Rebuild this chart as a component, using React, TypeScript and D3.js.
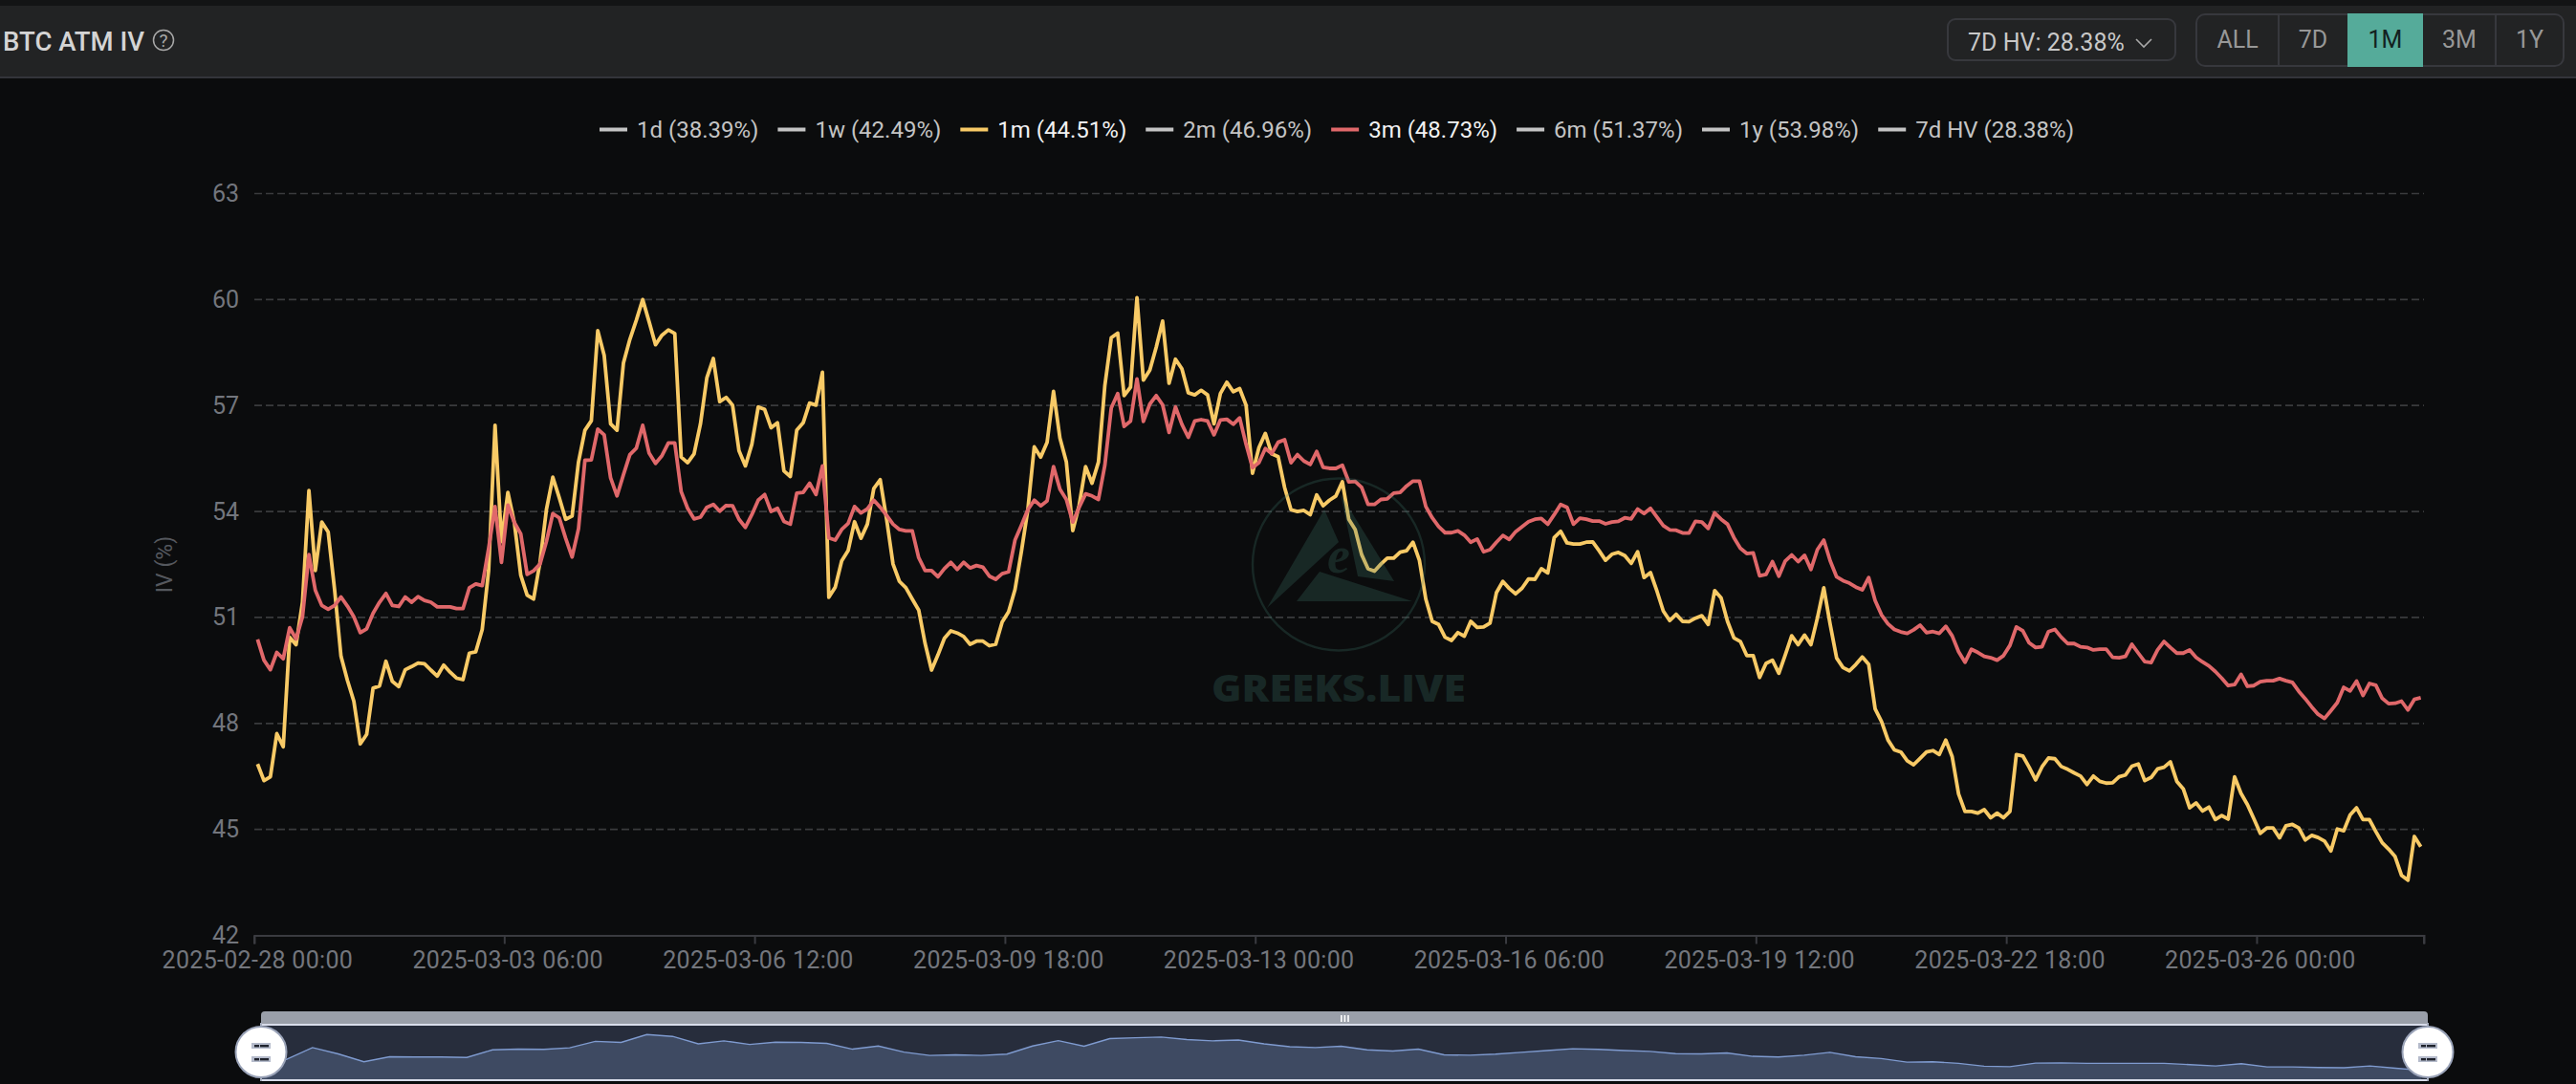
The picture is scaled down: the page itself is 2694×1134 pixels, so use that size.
import React, { useEffect, useRef } from "react";
import * as d3 from "d3";

// 2h samples
const startTime = new Date(Date.UTC(2025, 1, 28, 0, 0));
const sampleCount = 338;

const iv3m = [
  50.38, 49.79, 49.52, 50.01, 49.83, 50.71, 50.39, 51.02, 52.78, 51.77,
  51.34, 51.23, 51.34, 51.58, 51.32, 51.02, 50.57, 50.68, 51.12, 51.43,
  51.68, 51.34, 51.31, 51.58, 51.43, 51.59, 51.48, 51.43, 51.3, 51.3,
  51.3, 51.25, 51.25, 51.84, 51.95, 51.9, 52.96, 54.14, 52.56, 54.18,
  53.69, 53.37, 52.22, 52.32, 52.51, 53.15, 53.94, 53.82, 53.24, 52.71,
  53.51, 55.45, 55.46, 56.33, 56.17, 54.95, 54.44, 55.04, 55.61, 55.79,
  56.44, 55.65, 55.36, 55.58, 55.94, 55.94, 54.56, 54.09, 53.79, 53.84,
  54.12, 54.2, 54.01, 54.17, 54.16, 53.78, 53.55, 53.91, 54.32, 54.48,
  54.0, 54.09, 53.72, 53.64, 54.52, 54.54, 54.8, 54.48, 55.29, 53.25,
  53.19, 53.49, 53.66, 54.14, 53.96, 54.07, 54.32, 54.12, 53.89, 53.64,
  53.49, 53.45, 53.45, 52.69, 52.33, 52.33, 52.15, 52.38, 52.56, 52.36,
  52.56, 52.4, 52.47, 52.42, 52.17, 52.08, 52.24, 52.29, 53.19, 53.61,
  54.05, 54.32, 54.16, 54.3, 55.27, 54.63, 54.34, 53.7, 54.12, 54.5,
  54.44, 54.34, 55.31, 56.93, 57.34, 56.41, 56.56, 57.75, 56.55, 57.04,
  57.28, 57.02, 56.24, 56.96, 56.47, 56.1, 56.56, 56.6, 56.56, 56.17,
  56.59, 56.61, 56.47, 56.65, 55.9, 55.24, 55.38, 55.78, 55.64, 55.96,
  56.03, 55.38, 55.61, 55.43, 55.33, 55.7, 55.25, 55.22, 55.22, 55.31,
  54.84, 54.85, 54.68, 54.2, 54.2, 54.34, 54.36, 54.52, 54.54, 54.72,
  54.86, 54.86, 54.14, 53.82, 53.57, 53.4, 53.4, 53.45, 53.33, 53.13,
  53.22, 52.86, 52.92, 53.13, 53.32, 53.21, 53.43, 53.57, 53.71, 53.78,
  53.8, 53.64, 53.91, 54.2, 54.12, 53.64, 53.81, 53.78, 53.73, 53.73,
  53.65, 53.7, 53.72, 53.82, 53.79, 54.07, 53.94, 54.09, 53.84, 53.6,
  53.48, 53.47, 53.39, 53.39, 53.72, 53.7, 53.52, 53.96, 53.78, 53.64,
  53.26, 52.96, 52.81, 52.83, 52.18, 52.22, 52.58, 52.17, 52.6, 52.77,
  52.58, 52.76, 52.36, 52.92, 53.19, 52.6, 52.15, 52.04, 51.97, 51.86,
  51.78, 52.13, 51.48, 51.07, 50.82, 50.66, 50.59, 50.55, 50.65, 50.78,
  50.57, 50.6, 50.55, 50.75, 50.48, 50.03, 49.73, 50.1, 50.01, 49.9,
  49.86, 49.79, 49.92, 50.21, 50.73, 50.62, 50.28, 50.15, 50.17, 50.6,
  50.66, 50.44, 50.26, 50.26, 50.17, 50.15, 50.08, 50.1, 50.1, 49.87,
  49.86, 49.9, 50.24, 49.99, 49.75, 49.72, 50.08, 50.32, 50.15, 49.99,
  49.99, 50.08, 49.87, 49.74, 49.63, 49.47, 49.28, 49.07, 49.1, 49.39,
  49.05, 49.07, 49.18, 49.21, 49.21, 49.27, 49.21, 49.16, 48.91, 48.7,
  48.47, 48.26, 48.14, 48.36, 48.59, 49.02, 48.92, 49.2, 48.79, 49.13,
  49.08, 48.71, 48.56, 48.57, 48.63, 48.38, 48.68, 48.73,
];

const iv1m = [
  46.85, 46.38, 46.49, 47.71, 47.34, 50.44, 50.23, 51.43, 54.59, 52.33,
  53.7, 53.42, 51.79, 49.9, 49.22, 48.63, 47.42, 47.69, 49.0, 49.06,
  49.76, 49.19, 49.04, 49.52, 49.61, 49.71, 49.69, 49.51, 49.34, 49.65,
  49.45, 49.28, 49.24, 49.99, 50.03, 50.66, 52.33, 56.44, 53.15, 54.54,
  53.69, 52.2, 51.63, 51.52, 52.56, 54.05, 54.97, 54.39, 53.78, 53.87,
  55.4, 56.3, 56.57, 59.12, 58.42, 56.48, 56.3, 58.2, 58.87, 59.41,
  60.0, 59.37, 58.72, 58.99, 59.14, 59.04, 55.54, 55.38, 55.63, 56.48,
  57.79, 58.33, 57.11, 57.23, 57.01, 55.72, 55.29, 55.9, 56.96, 56.89,
  56.37, 56.51, 55.15, 54.99, 56.3, 56.51, 57.07, 57.01, 57.94, 51.57,
  51.86, 52.6, 52.89, 53.71, 53.24, 53.64, 54.65, 54.9, 53.78, 52.51,
  52.02, 51.84, 51.52, 51.21, 50.26, 49.51, 49.94, 50.41, 50.62, 50.56,
  50.46, 50.24, 50.33, 50.33, 50.2, 50.24, 50.87, 51.16, 51.79, 52.87,
  54.05, 55.83, 55.54, 55.96, 57.4, 56.08, 55.4, 53.46, 54.18, 55.27,
  54.8, 55.4, 57.57, 58.92, 59.05, 57.28, 57.52, 60.05, 57.72, 58.0,
  58.65, 59.39, 57.63, 58.31, 58.04, 57.36, 57.3, 57.43, 57.3, 56.48,
  57.34, 57.66, 57.39, 57.48, 57.01, 55.08, 55.81, 56.21, 55.63, 55.55,
  54.68, 54.05, 54.0, 54.03, 53.91, 54.47, 54.16, 54.32, 54.44, 54.84,
  53.78, 53.49, 52.78, 52.38, 52.31, 52.51, 52.68, 52.68, 52.85, 52.89,
  53.13, 52.62, 51.52, 50.89, 50.8, 50.44, 50.35, 50.57, 50.47, 50.89,
  50.72, 50.73, 50.84, 51.7, 52.02, 51.82, 51.67, 51.83, 52.09, 52.08,
  52.38, 52.26, 53.26, 53.44, 53.11, 53.08, 53.08, 53.13, 53.14, 52.89,
  52.62, 52.79, 52.84, 52.75, 52.53, 52.86, 52.13, 52.27, 51.75, 51.18,
  50.91, 51.09, 50.89, 50.88, 50.98, 51.05, 50.8, 51.76, 51.55, 50.89,
  50.42, 50.32, 49.92, 49.92, 49.3, 49.7, 49.79, 49.42, 49.94, 50.48,
  50.23, 50.5, 50.23, 50.98, 51.84, 50.8, 49.85, 49.58, 49.49, 49.67,
  49.88, 49.67, 48.41, 48.05, 47.53, 47.25, 47.19, 46.94, 46.83, 47.01,
  47.19, 47.23, 47.12, 47.53, 47.06, 46.0, 45.51, 45.51, 45.46, 45.56,
  45.33, 45.46, 45.33, 45.51, 47.12, 47.08, 46.76, 46.4, 46.77, 47.02,
  47.0, 46.78, 46.7, 46.6, 46.51, 46.27, 46.51, 46.36, 46.31, 46.32,
  46.49, 46.54, 46.79, 46.85, 46.38, 46.47, 46.71, 46.76, 46.91, 46.36,
  46.15, 45.61, 45.75, 45.52, 45.63, 45.28, 45.39, 45.29, 46.49, 46.02,
  45.7, 45.3, 44.89, 45.04, 45.04, 44.76, 45.1, 45.14, 45.04, 44.7,
  44.83, 44.77, 44.67, 44.39, 45.01, 44.96, 45.41, 45.61, 45.28, 45.28,
  44.94, 44.62, 44.44, 44.23, 43.7, 43.56, 44.8, 44.51,
];

// navigator shadow, one value every 4 samples
const navigatorValues = [
  43.4, 46.9, 52.1, 49.3, 45.8, 48.0, 47.9, 47.9, 47.7, 51.1,
  51.4, 51.3, 52.0, 54.9, 54.4, 57.9, 57.1, 53.8, 55.1, 53.5,
  54.5, 54.4, 54.0, 51.4, 52.8, 50.1, 48.6, 48.9, 48.6, 49.2,
  52.8, 55.2, 52.7, 56.1, 56.5, 56.8, 55.7, 55.1, 55.5, 53.8,
  52.5, 52.1, 52.7, 51.1, 50.6, 51.4, 48.9, 48.7, 49.2, 50.0,
  50.8, 51.6, 51.3, 50.8, 50.4, 49.4, 49.3, 49.7, 48.2, 47.9,
  48.7, 50.0, 48.0, 47.2, 45.6, 45.8, 45.1, 43.8, 43.6, 45.2,
  45.3, 45.1, 45.1, 45.1, 45.1, 44.5, 43.9, 44.9, 43.5, 43.5,
  43.2, 43.1, 43.9, 42.9, 42.0,
];

const yTicks = [42, 45, 48, 51, 54, 57, 60, 63];
const tickEvery = 39; // one label per 39 samples

const legendNames = ["1d", "1w", "1m", "2m", "3m", "6m", "1y", "7d HV"];
const legendValues = ["38.39", "42.49", "44.51", "46.96", "48.73", "51.37", "53.98", "28.38"];
const legendColors: Record<string, string> = { "1m": "#f8ca66", "3m": "#e0686a" };

const rangeButtons = ["ALL", "7D", "1M", "3M", "1Y"];
const activeRange = "1M";

const FONT = "Roboto, sans-serif";
const WIDTH = 2694;
const HEIGHT = 1134;

const App: React.FC = () => {
  const ref = useRef<SVGSVGElement>(null);

  useEffect(() => {
    document.body.style.margin = "0";
    document.body.style.background = "#0b0c0d";
    const svg = d3.select(ref.current);
    svg.selectAll("*").remove();
    svg.style("font-family", FONT);

    const margin = { top: 202.5, right: 159, bottom: 155.5, left: 266 };
    const plotRight = WIDTH - margin.right;
    const plotBottom = HEIGHT - margin.bottom;

    svg.append("rect").attr("width", WIDTH).attr("height", HEIGHT).attr("fill", "#0b0c0d");

    // Header
    svg.append("rect").attr("width", WIDTH).attr("height", 6).attr("fill", "#131415");
    svg.append("rect").attr("y", 6).attr("width", WIDTH).attr("height", 74).attr("fill", "#222324");
    svg.append("rect").attr("y", 80).attr("width", WIDTH).attr("height", 2).attr("fill", "#33343a");

    svg
      .append("text")
      .attr("x", 3)
      .attr("y", 52.5)
      .attr("fill", "#d4d4d4")
      .attr("textLength", 148)
      .attr("lengthAdjust", "spacingAndGlyphs")
      .style("font-size", "28px")
      .style("font-weight", 500)
      .text("BTC ATM IV");

    svg
      .append("circle")
      .attr("cx", 171)
      .attr("cy", 42)
      .attr("r", 10.5)
      .attr("fill", "none")
      .attr("stroke", "#a8a8a8")
      .attr("stroke-width", 1.5);
    svg
      .append("text")
      .attr("x", 171)
      .attr("y", 49)
      .attr("text-anchor", "middle")
      .attr("fill", "#a8a8a8")
      .style("font-size", "19px")
      .text("?");

    // HV selector
    svg
      .append("rect")
      .attr("x", 2037)
      .attr("y", 20)
      .attr("width", 238)
      .attr("height", 43)
      .attr("rx", 8)
      .attr("fill", "none")
      .attr("stroke", "#37383d")
      .attr("stroke-width", 2);
    svg
      .append("text")
      .attr("x", 2058)
      .attr("y", 53)
      .attr("fill", "#c8c8c8")
      .style("font-size", "25px")
      .text("7D HV: 28.38%");
    svg
      .append("path")
      .attr("d", "M2234,41L2242,49L2250,41")
      .attr("fill", "none")
      .attr("stroke", "#a8a8a8")
      .attr("stroke-width", 1.6);

    // Range buttons
    const buttonEdges = [2297, 2383, 2455, 2534, 2610, 2681];
    const buttonGroup = svg.append("g");
    buttonGroup
      .append("rect")
      .attr("x", 2297)
      .attr("y", 15)
      .attr("width", 384)
      .attr("height", 54)
      .attr("rx", 9)
      .attr("fill", "none")
      .attr("stroke", "#37383d")
      .attr("stroke-width", 2);
    rangeButtons.forEach((label, i) => {
      const x0 = buttonEdges[i];
      const x1 = buttonEdges[i + 1];
      const active = label === activeRange;
      if (active) {
        buttonGroup
          .append("rect")
          .attr("x", x0)
          .attr("y", 14)
          .attr("width", x1 - x0)
          .attr("height", 56)
          .attr("fill", "#55ab9a");
      } else if (i > 0 && rangeButtons[i - 1] !== activeRange) {
        buttonGroup
          .append("line")
          .attr("x1", x0)
          .attr("x2", x0)
          .attr("y1", 15)
          .attr("y2", 69)
          .attr("stroke", "#37383d")
          .attr("stroke-width", 2);
      }
      buttonGroup
        .append("text")
        .attr("x", (x0 + x1) / 2)
        .attr("y", 50)
        .attr("text-anchor", "middle")
        .attr("fill", active ? "#13211f" : "#989898")
        .style("font-size", "25px")
        .text(label);
    });

    // Scales
    const categories = d3.range(sampleCount).map((i) =>
      d3.utcFormat("%Y-%m-%d %H:%M")(d3.utcHour.offset(startTime, i * 2))
    );
    const x = d3.scaleBand<string>().domain(categories).range([margin.left, plotRight]);
    const y = d3.scaleLinear().domain([42, 63]).range([plotBottom, margin.top]);
    const pointX = (i: number) => x(categories[i])! + x.bandwidth() / 2;

    // Grid
    svg
      .append("g")
      .selectAll("line")
      .data(yTicks.slice(1))
      .join("line")
      .attr("x1", margin.left)
      .attr("x2", plotRight)
      .attr("y1", (d) => y(d))
      .attr("y2", (d) => y(d))
      .attr("stroke", "#3a3b3d")
      .attr("stroke-width", 1.7)
      .attr("stroke-dasharray", "8 4");

    // Y axis
    const yAxis = svg
      .append("g")
      .attr("transform", `translate(${margin.left},0)`)
      .call(d3.axisLeft(y).tickValues(yTicks).tickSize(0).tickPadding(16));
    yAxis.select(".domain").remove();
    yAxis
      .selectAll("text")
      .attr("fill", "#73767d")
      .style("font-family", FONT)
      .style("font-size", "25px");

    svg
      .append("text")
      .attr("transform", `translate(180,${(margin.top + plotBottom) / 2}) rotate(-90)`)
      .attr("text-anchor", "middle")
      .attr("fill", "#55585e")
      .style("font-size", "23px")
      .text("IV (%)");

    // X axis, ticks sit on the band edge and labels on the band centre
    const xAxis = svg
      .append("g")
      .attr("transform", `translate(0,${plotBottom})`)
      .call(
        d3
          .axisBottom(x)
          .tickValues(categories.filter((_, i) => i % tickEvery === 0 && i < 320))
          .tickSize(9)
          .tickPadding(8)
      );
    xAxis.select(".domain").attr("stroke", "#3a3b40").attr("stroke-width", 2);
    xAxis
      .selectAll(".tick line")
      .attr("x1", -x.bandwidth() / 2)
      .attr("x2", -x.bandwidth() / 2)
      .attr("stroke", "#3a3b40")
      .attr("stroke-width", 2);
    xAxis
      .selectAll("text")
      .attr("fill", "#73767d")
      .style("font-family", FONT)
      .style("font-size", "25px")
      .style("letter-spacing", "0.3px");
    svg
      .append("line")
      .attr("x1", plotRight)
      .attr("x2", plotRight)
      .attr("y1", plotBottom)
      .attr("y2", plotBottom + 9)
      .attr("stroke", "#3a3b40")
      .attr("stroke-width", 2);

    // Lines
    const line = d3
      .line<number>()
      .x((_, i) => pointX(i))
      .y((d) => y(d));

    svg
      .append("path")
      .datum(iv1m)
      .attr("fill", "none")
      .attr("stroke", legendColors["1m"])
      .attr("stroke-width", 3.8)
      .attr("stroke-linejoin", "round")
      .attr("d", line);
    svg
      .append("path")
      .datum(iv3m)
      .attr("fill", "none")
      .attr("stroke", legendColors["3m"])
      .attr("stroke-width", 3.8)
      .attr("stroke-linejoin", "round")
      .attr("d", line);

    // Watermark
    const mark = svg.append("g").attr("fill", "#3f7c71").attr("fill-opacity", 0.25);
    mark
      .append("circle")
      .attr("cx", 1400)
      .attr("cy", 590.5)
      .attr("r", 90)
      .attr("fill", "none")
      .attr("stroke", "#3f7c71")
      .attr("stroke-opacity", 0.25)
      .attr("stroke-width", 2.4);
    mark.append("path").attr("d", "M1385,533L1400,567L1325,636Z");
    mark.append("path").attr("d", "M1402,517L1458,608L1420,603Z");
    mark.append("path").attr("d", "M1380,598L1477,629L1356,629Z");
    mark
      .append("text")
      .attr("x", 1400)
      .attr("y", 599)
      .attr("text-anchor", "middle")
      .style("font-family", "'Liberation Serif', serif")
      .style("font-style", "italic")
      .style("font-weight", 700)
      .style("font-size", "54px")
      .text("e");
    mark
      .append("text")
      .attr("x", 1267)
      .attr("y", 734)
      .attr("textLength", 266)
      .attr("lengthAdjust", "spacingAndGlyphs")
      .attr("transform", "translate(0,0)")
      .style("font-family", "'Open Sans', sans-serif")
      .style("font-weight", 800)
      .style("font-size", "38px")
      .text("GREEKS.LIVE");

    // Legend
    const legend = svg.append("g");
    let cursor = 0;
    legendNames.forEach((name, i) => {
      const color = legendColors[name];
      const item = legend.append("g").attr("transform", `translate(${cursor},0)`);
      item
        .append("rect")
        .attr("y", 133.5)
        .attr("width", 29)
        .attr("height", 4)
        .attr("fill", color ?? "#c4c4c4");
      const label = item
        .append("text")
        .attr("x", 39)
        .attr("y", 144)
        .attr("fill", color ? "#f2f2f2" : "#c4c4c4")
        .style("font-size", "24px")
        .text(`${name} (${legendValues[i]}%)`);
      cursor += 39 + label.node()!.getComputedTextLength() + 20;
    });
    legend.attr("transform", `translate(${1398 - (cursor - 20) / 2},0)`);

    // Navigator
    const navLeft = 273;
    const navRight = 2539;
    const navTop = 1072.7;
    const navBottom = 1129;
    const navX = d3.scaleLinear().domain([0, sampleCount - 1]).range([navLeft, navRight]);
    const navY = d3.scaleLinear().domain([38, 62]).range([navBottom, navTop]);

    svg
      .append("path")
      .attr("d", `M${navLeft},1071V1062Q${navLeft},1058 ${navLeft + 4},1058H${navRight - 4}Q${navRight},1058 ${navRight},1062V1071Z`)
      .attr("fill", "#9a9fa9");
    svg
      .append("rect")
      .attr("x", navLeft)
      .attr("y", navTop)
      .attr("width", navRight - navLeft)
      .attr("height", navBottom - navTop)
      .attr("fill", "#272d3c");
    svg
      .append("path")
      .datum(navigatorValues)
      .attr("fill", "#3e4a62")
      .attr(
        "d",
        d3
          .area<number>()
          .x((_, i) => navX(i * 4))
          .y0(navBottom)
          .y1((d) => navY(d))
      );
    svg
      .append("path")
      .datum(navigatorValues)
      .attr("fill", "none")
      .attr("stroke", "#7f9bd0")
      .attr("stroke-width", 1.4)
      .attr(
        "d",
        d3
          .line<number>()
          .x((_, i) => navX(i * 4))
          .y((d) => navY(d))
      );
    [1071, 1129].forEach((top) =>
      svg
        .append("rect")
        .attr("x", navLeft)
        .attr("y", top)
        .attr("width", navRight - navLeft)
        .attr("height", 2)
        .attr("fill", "#d8dcea")
    );
    [0, 3.6, 7.2].forEach((dx) =>
      svg
        .append("rect")
        .attr("x", 1402 + dx)
        .attr("y", 1062)
        .attr("width", 1.6)
        .attr("height", 7)
        .attr("fill", "#ffffff")
    );

    [navLeft, navRight].forEach((cx) => {
      const h = svg.append("g");
      h.append("rect")
        .attr("x", cx - 1)
        .attr("y", 1070)
        .attr("width", 2)
        .attr("height", 61)
        .attr("fill", "#a9b0c0");
      h.append("circle")
        .attr("cx", cx)
        .attr("cy", 1100.5)
        .attr("r", 26.5)
        .attr("fill", "#ffffff")
        .attr("stroke", "#9aa3b8")
        .attr("stroke-width", 2);
      [1094, 1108].forEach((cy) => {
        h.append("rect")
          .attr("x", cx - 10)
          .attr("y", cy - 3)
          .attr("width", 20)
          .attr("height", 6)
          .attr("fill", "#b5bbcb");
        h.append("rect")
          .attr("x", cx - 7)
          .attr("y", cy - 1)
          .attr("width", 5)
          .attr("height", 2.4)
          .attr("fill", "#20242e");
        h.append("rect")
          .attr("x", cx - 1)
          .attr("y", cy - 1)
          .attr("width", 9)
          .attr("height", 2.4)
          .attr("fill", "#20242e");
      });
    });
  }, []);

  return (
    <svg
      ref={ref}
      width={WIDTH}
      height={HEIGHT}
      style={{ position: "absolute", left: 0, top: 0, display: "block" }}
    />
  );
};

export default App;
